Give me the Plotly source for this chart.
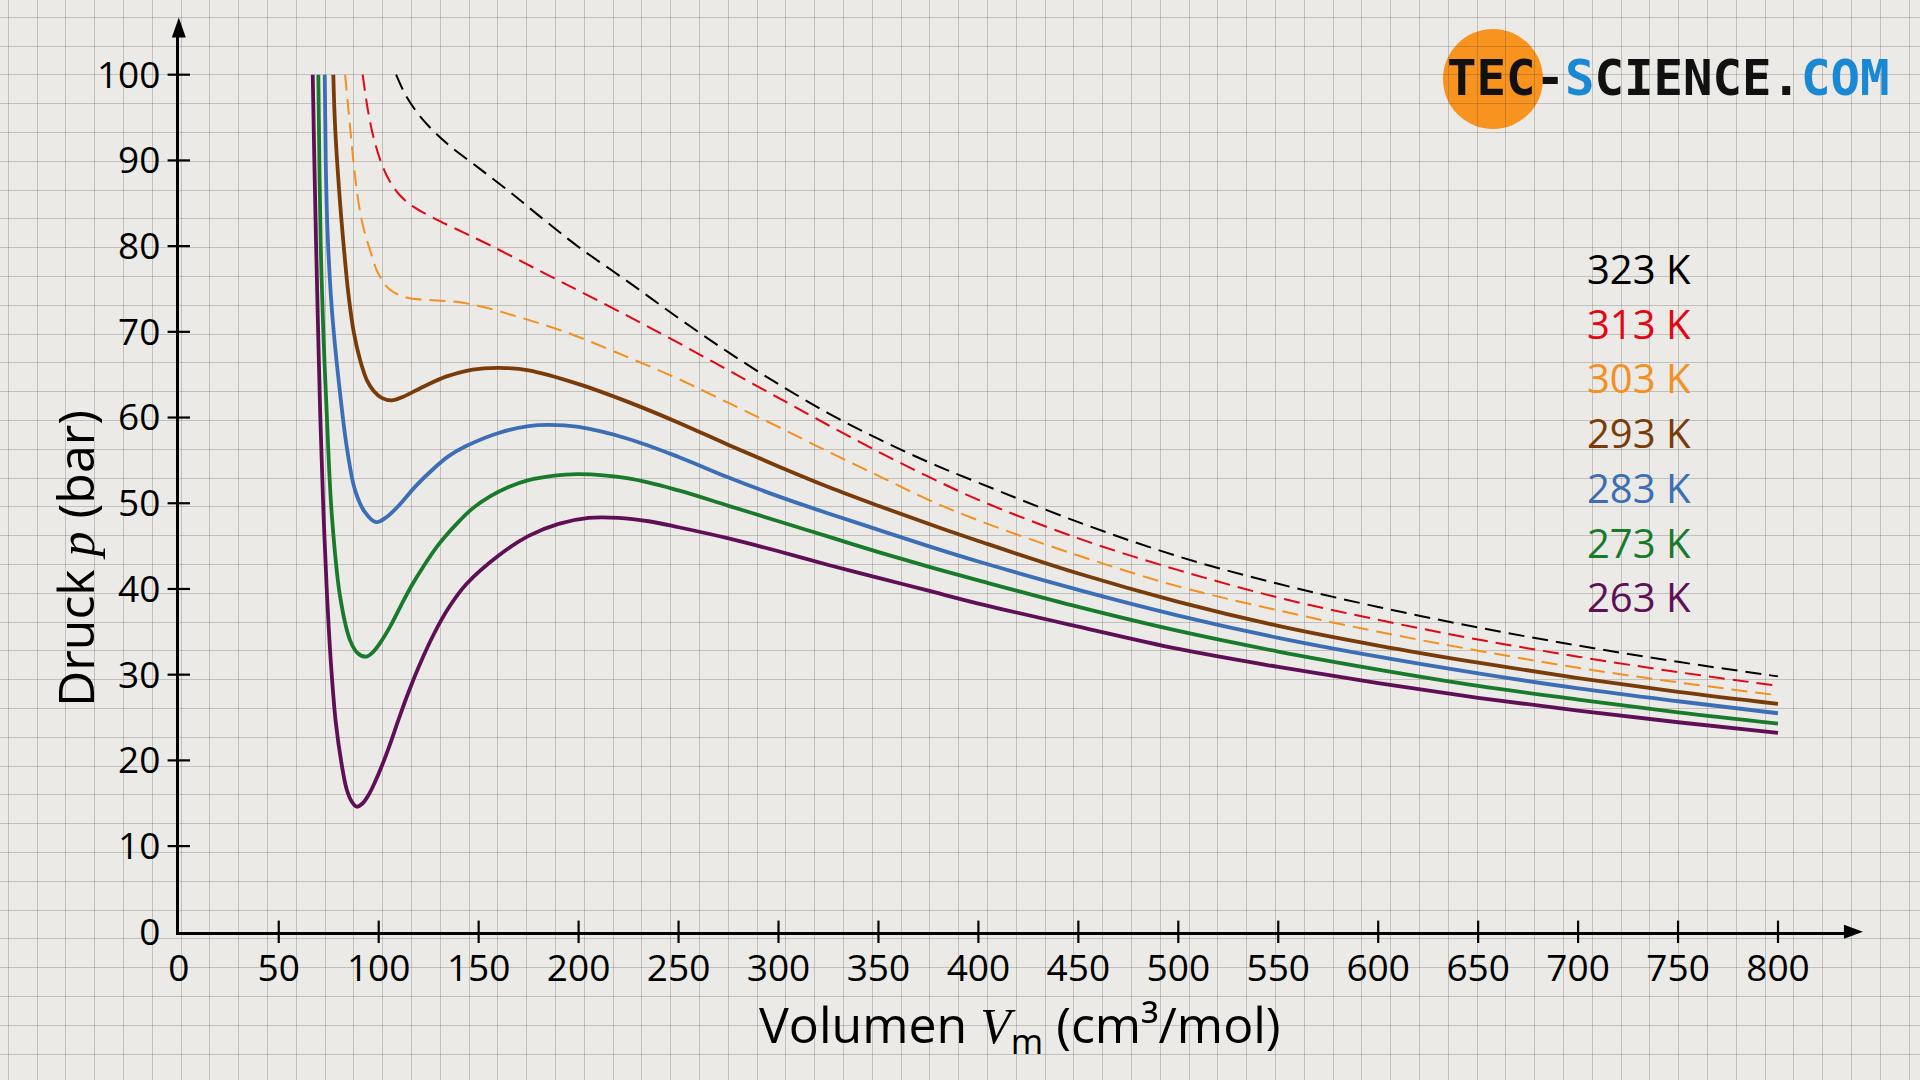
import plotly.graph_objects as go

# ---------------- data ----------------
V_323 = [108.7, 114.0, 122.3, 134.0, 149.0, 165.7, 182.0, 200, 225, 250, 275, 300, 325, 350, 375, 400, 450, 500, 550, 600, 650, 700, 750, 800]
P_323 = [100.0, 97.4, 94.7, 92.0, 89.3, 86.3, 83.2, 79.9, 75.8, 71.6, 67.6, 63.9, 60.5, 57.5, 54.8, 52.4, 47.8, 43.8, 40.6, 37.9, 35.5, 33.4, 31.5, 29.8]

V_313 = [92.0, 94.5, 97.5, 101.5, 105.7, 110.7, 117.3, 127.3, 142.3, 155.7, 172.4, 185.7, 200, 225, 250, 275, 300, 325, 350, 375, 400, 450, 500, 550, 600, 650, 700, 750, 800]
P_313 = [100.0, 96.0, 92.6, 89.6, 87.5, 85.9, 84.6, 83.3, 81.6, 80.1, 78.1, 76.5, 74.8, 71.8, 68.7, 65.5, 62.3, 59.1, 56.0, 53.1, 50.4, 45.9, 42.2, 39.0, 36.4, 34.1, 32.1, 30.3, 28.7]

V_303 = [83.2, 85.7, 88.2, 91.5, 95.7, 99.8, 105.7, 114.0, 125.7, 139.0, 152.3, 169.0, 185.7, 200, 225, 250, 275, 300, 325, 350, 375, 400, 450, 500, 550, 600, 650, 700, 750, 800]
P_303 = [100.0, 93.9, 88.1, 83.0, 79.5, 76.8, 74.9, 74.0, 73.7, 73.5, 72.9, 71.8, 70.6, 69.4, 67.0, 64.5, 61.7, 58.9, 56.0, 53.2, 50.4, 48.0, 43.9, 40.3, 37.5, 35.0, 32.8, 30.8, 29.1, 27.6]

V_293 = [77.3, 78.2, 80.3, 82.5, 84.8, 87.5, 90.7, 94.0, 97.5, 101.5, 106.5, 112.0, 122.3, 134.0, 147.0, 160.5, 175, 200, 225, 250, 275, 300, 325, 350, 375, 400, 450, 500, 550, 600, 650, 700, 750, 800]
P_293 = [100.0, 93.9, 86.2, 80.0, 74.5, 70.0, 66.7, 64.4, 63.1, 62.3, 62.0, 62.4, 63.6, 64.8, 65.6, 65.8, 65.5, 63.9, 61.8, 59.4, 56.8, 54.3, 51.9, 49.7, 47.6, 45.6, 41.8, 38.5, 35.7, 33.4, 31.4, 29.6, 28.0, 26.6]

V_283 = [73.0, 73.5, 74.3, 76.0, 77.5, 80.5, 84.0, 88.2, 93.0, 98.7, 104.0, 110.7, 118.5, 127.3, 135.0, 144.0, 160, 175, 185, 200, 225, 250, 275, 300, 325, 350, 375, 400, 450, 500, 550, 600, 650, 700, 750, 800]
P_283 = [100.0, 90.0, 82.3, 74.5, 70.0, 63.2, 56.6, 51.5, 49.0, 47.8, 48.4, 49.9, 52.0, 54.0, 55.5, 56.7, 58.2, 59.0, 59.15, 58.9, 57.5, 55.4, 53.0, 50.8, 48.8, 46.9, 45.0, 43.2, 39.9, 36.9, 34.3, 32.1, 30.15, 28.4, 26.9, 25.5]

V_273 = [69.8, 70.3, 71.0, 72.3, 74.0, 76.5, 80.7, 85.7, 89.5, 93.7, 97.0, 101.0, 105.7, 111.0, 116.5, 122.3, 130.0, 139.0, 147.0, 155.7, 165.0, 175, 187, 200, 225, 250, 275, 300, 325, 350, 375, 400, 450, 500, 550, 600, 650, 700, 750, 800]
P_273 = [100.0, 90.0, 80.0, 70.0, 60.5, 48.8, 39.1, 34.0, 32.5, 32.1, 32.6, 33.8, 35.6, 38.0, 40.4, 42.6, 45.2, 47.6, 49.4, 50.8, 51.9, 52.7, 53.2, 53.4, 52.9, 51.5, 49.7, 47.9, 46.1, 44.3, 42.6, 41.0, 37.9, 35.1, 32.7, 30.6, 28.7, 27.1, 25.6, 24.3]

V_263 = [67.0, 67.8, 68.7, 69.7, 70.8, 72.2, 74.0, 76.2, 78.5, 81.5, 84.0, 86.5, 89.0, 92.0, 95.0, 98.0, 102.0, 106.0, 110.0, 114.0, 120.0, 127.3, 135.0, 144.0, 160, 175, 190, 205, 220, 235, 250, 275, 300, 325, 350, 375, 400, 450, 500, 550, 600, 650, 700, 750, 800]
P_263 = [100.0, 90.0, 80.0, 70.0, 60.0, 50.0, 40.0, 31.0, 24.5, 19.5, 16.6, 15.2, 14.6, 15.0, 16.0, 17.4, 19.6, 22.1, 24.8, 27.4, 30.9, 34.6, 37.8, 40.6, 43.9, 46.2, 47.6, 48.3, 48.3, 47.9, 47.2, 45.9, 44.4, 42.8, 41.3, 39.8, 38.3, 35.6, 33.0, 30.9, 29.0, 27.3, 25.8, 24.45, 23.2]

LABELS = ["323 K", "313 K", "303 K", "293 K", "283 K", "273 K", "263 K"]
SERIES_V = [V_323, V_313, V_303, V_293, V_283, V_273, V_263]
SERIES_P = [P_323, P_313, P_303, P_293, P_283, P_273, P_263]
COLORS = ["#000000", "#e30613", "#f39020", "#7a3b0a", "#3b6eb5", "#197a2c", "#5f0f56"]
DASHED = [True, True, True, False, False, False, False]

X_TICKS = list(range(0, 801, 50))
Y_TICKS = list(range(0, 101, 10))

# ---------------- geometry (pixels) ----------------
W, H = 1920, 1080
X0_PX, X800_PX = 178.8, 1778.0
Y0_PX, Y100_PX = 931.8, 74.7
PX_X = (X800_PX - X0_PX) / 800.0
PX_Y = (Y0_PX - Y100_PX) / 100.0
X_MAX = 838.0
Y_MAX = 105.5
x_dom = [X0_PX / W, (X0_PX + X_MAX * PX_X) / W]
y_dom = [(H - Y0_PX) / H, (H - (Y0_PX - Y_MAX * PX_Y)) / H]

BG = "#ebeae6"
FONT = "Open Sans"

fig = go.Figure()

# dummy trace so the background "graph paper" axes exist (drawn first, beneath data)
fig.add_trace(go.Scatter(x=[None], y=[None], xaxis="x", yaxis="y",
                         showlegend=False, hoverinfo="skip"))

# curves
for lab, vv, pp, col, dash in zip(LABELS, SERIES_V, SERIES_P, COLORS, DASHED):
    fig.add_trace(go.Scatter(
        x=vv, y=pp, mode="lines", name=lab, xaxis="x2", yaxis="y2",
        line=dict(color=col, width=2 if dash else 3.8,
                  dash="16px,8px" if dash else "solid",
                  shape="spline", smoothing=1.0),
        showlegend=False, hoverinfo="skip"))

# crossing tick marks
fig.add_trace(go.Scatter(
    x=X_TICKS[1:], y=[0] * (len(X_TICKS) - 1), mode="markers", xaxis="x2", yaxis="y2",
    marker=dict(symbol="line-ns", size=16, line=dict(color="black", width=2.2)),
    cliponaxis=False, showlegend=False, hoverinfo="skip"))
fig.add_trace(go.Scatter(
    x=[0] * (len(Y_TICKS) - 1), y=Y_TICKS[1:], mode="markers", xaxis="x2", yaxis="y2",
    marker=dict(symbol="line-ew", size=16, line=dict(color="black", width=2.2)),
    cliponaxis=False, showlegend=False, hoverinfo="skip"))

XA_END = X0_PX + X_MAX * PX_X
YA_END = Y0_PX - Y_MAX * PX_Y
shapes = [
    # arrow heads
    dict(type="path", xref="x", yref="y",
         path=f"M {XA_END - 10},{Y0_PX - 7} L {XA_END + 9},{Y0_PX} L {XA_END - 10},{Y0_PX + 7} Z",
         fillcolor="black", line=dict(width=0)),
    dict(type="path", xref="x", yref="y",
         path=f"M {X0_PX - 7},{YA_END + 10} L {X0_PX},{YA_END - 10} L {X0_PX + 7},{YA_END + 10} Z",
         fillcolor="black", line=dict(width=0)),
    # logo circle
    dict(type="circle", xref="x", yref="y", x0=1443, x1=1543, y0=29, y1=129,
         fillcolor="#f7931e", line=dict(width=0), layer="below"),
]

annotations = []
# legend labels
for i, (lab, col) in enumerate(zip(LABELS, COLORS)):
    annotations.append(dict(x=1584.5, y=268.5 + 54.7 * i, xref="x", yref="y", text=lab,
                            showarrow=False, xanchor="left", yanchor="middle",
                            font=dict(family=FONT, size=40, color=col)))
# axis titles
annotations.append(dict(
    x=1020, y=1027, xref="x", yref="y", showarrow=False, xanchor="center", yanchor="middle",
    text="Volumen <span style='font-family:Liberation Serif'><i>V</i></span><sub>m</sub> (cm³/mol)",
    font=dict(family=FONT, size=50, color="black")))
annotations.append(dict(
    x=75, y=559, xref="x", yref="y", showarrow=False, xanchor="center", yanchor="middle",
    textangle=-90,
    text="Druck <span style='font-family:Liberation Serif'><i>p</i></span> (bar)",
    font=dict(family=FONT, size=50, color="black")))
# logo text
annotations.append(dict(
    x=1445, y=78, xref="x", yref="y", showarrow=False, xanchor="left", yanchor="middle",
    text="<b><span style='color:#111'>TEC-</span><span style='color:#1a88d2'>S</span>"
         "<span style='color:#111'>CIENCE.</span><span style='color:#1a88d2'>COM</span></b>",
    font=dict(family="DejaVu Sans Mono", size=49)))

GRID = "rgba(60,60,60,0.24)"
fig.update_layout(
    width=W, height=H, margin=dict(l=0, r=0, t=0, b=0, autoexpand=False),
    paper_bgcolor=BG, plot_bgcolor="rgba(0,0,0,0)",
    shapes=shapes, annotations=annotations, showlegend=False,
    xaxis=dict(domain=[0, 1], range=[0, W], showgrid=True, gridcolor=GRID,
               gridwidth=1.2, tick0=8.3, dtick=28.8, showticklabels=False, zeroline=False,
               showline=False, ticks="", fixedrange=True),
    yaxis=dict(domain=[0, 1], range=[H, 0], showgrid=True, gridcolor=GRID,
               gridwidth=1.2, tick0=17.3, dtick=28.8, showticklabels=False, zeroline=False,
               showline=False, ticks="", fixedrange=True),
    xaxis2=dict(domain=x_dom, anchor="y2", range=[0, X_MAX], showgrid=False, zeroline=False,
                showline=True, linecolor="black", linewidth=3, ticks="",
                tickvals=X_TICKS, ticktext=[str(t) for t in X_TICKS],
                tickfont=dict(family=FONT, size=37, color="black"), ticklabelstandoff=2,
                fixedrange=True),
    yaxis2=dict(domain=y_dom, anchor="x2", range=[0, Y_MAX], showgrid=False, zeroline=False,
                showline=True, linecolor="black", linewidth=3, ticks="",
                tickvals=Y_TICKS, ticktext=[str(t) for t in Y_TICKS],
                tickfont=dict(family=FONT, size=37, color="black"), ticklabelstandoff=8,
                fixedrange=True),
)

fig.write_html("out.html")
